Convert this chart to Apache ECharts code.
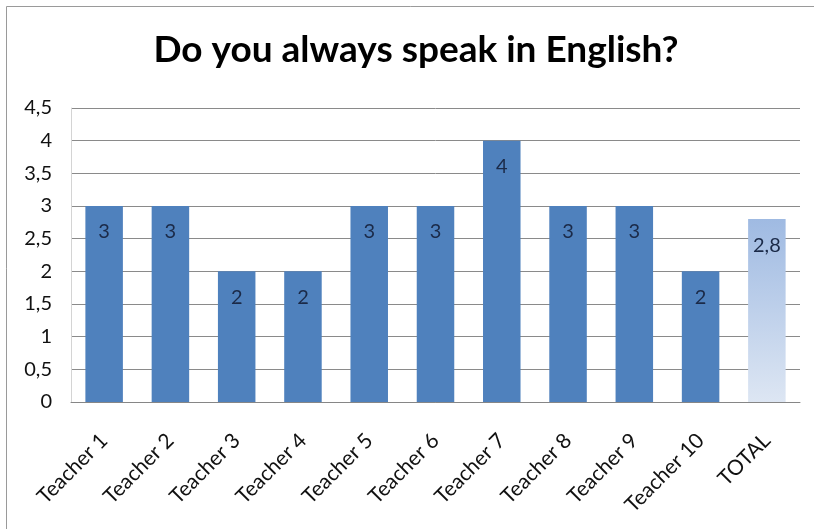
<!DOCTYPE html>
<html>
<head>
<meta charset="utf-8">
<script src="https://cdn.jsdelivr.net/npm/echarts@6/dist/echarts.min.js"></script>
<style>
  html, body { margin: 0; padding: 0; background: #fff; }
  #chart { width: 814px; height: 529px; }
</style>
</head>
<body>
<div id="chart"></div>
<script>
// Survey answers per teacher plus the overall average
const categories = ['Teacher 1', 'Teacher 2', 'Teacher 3', 'Teacher 4', 'Teacher 5',
  'Teacher 6', 'Teacher 7', 'Teacher 8', 'Teacher 9', 'Teacher 10', 'TOTAL'];
const teacherValues = [3, 3, 2, 2, 3, 3, 4, 3, 3, 2];
const totalValue = 2.8;

const FONT = 'Lato, "Open Sans", sans-serif';
const fmt = v => String(v).replace('.', ',');

const barData = teacherValues.map(v => ({ value: v }));
barData.push({
  value: totalValue,
  itemStyle: {
    color: new echarts.graphic.LinearGradient(0, 0, 0, 1, [
      { offset: 0, color: '#9fbae2' },
      { offset: 1, color: '#dde6f3' }
    ])
  }
});

const chart = echarts.init(document.getElementById('chart'), null, { renderer: 'canvas' });
chart.setOption({
  animation: false,
  backgroundColor: '#ffffff',
  graphic: [{
    type: 'rect',
    shape: { x: 6.5, y: 6.5, width: 900, height: 600 },
    style: { fill: 'none', stroke: '#9a9a9a', lineWidth: 1 },
    silent: true
  }],
  title: {
    text: 'Do you always speak in English?',
    left: 411,
    top: 27,
    textAlign: 'center',
    textStyle: { fontFamily: FONT, fontWeight: 'bold', fontSize: 37, color: '#000' }
  },
  grid: { left: 71, right: 14, top: 108, bottom: 127, containLabel: false },
  xAxis: {
    type: 'category',
    data: categories,
    axisLine: { lineStyle: { color: '#868686', width: 1 } },
    axisTick: { show: false },
    axisLabel: {
      rotate: 45,
      margin: 35,
      interval: 0,
      fontFamily: FONT,
      fontSize: 21,
      color: '#111'
    }
  },
  yAxis: {
    type: 'value',
    min: 0,
    max: 4.5,
    interval: 0.5,
    axisLine: { show: true, lineStyle: { color: '#d4d4d4' } },
    axisTick: { show: false },
    splitLine: { lineStyle: { color: '#8a8a8a', width: 1 } },
    axisLabel: {
      margin: 19,
      fontFamily: FONT,
      fontSize: 20,
      color: '#111',
      formatter: v => fmt(v)
    }
  },
  series: [{
    type: 'bar',
    data: barData,
    barWidth: '56.6%',
    itemStyle: { color: '#4f81bd' },
    label: {
      show: true,
      position: 'insideTop',
      distance: 16,
      fontFamily: FONT,
      fontSize: 20,
      color: '#1b2a48',
      formatter: p => fmt(p.value)
    }
  }]
});
</script>
</body>
</html>
